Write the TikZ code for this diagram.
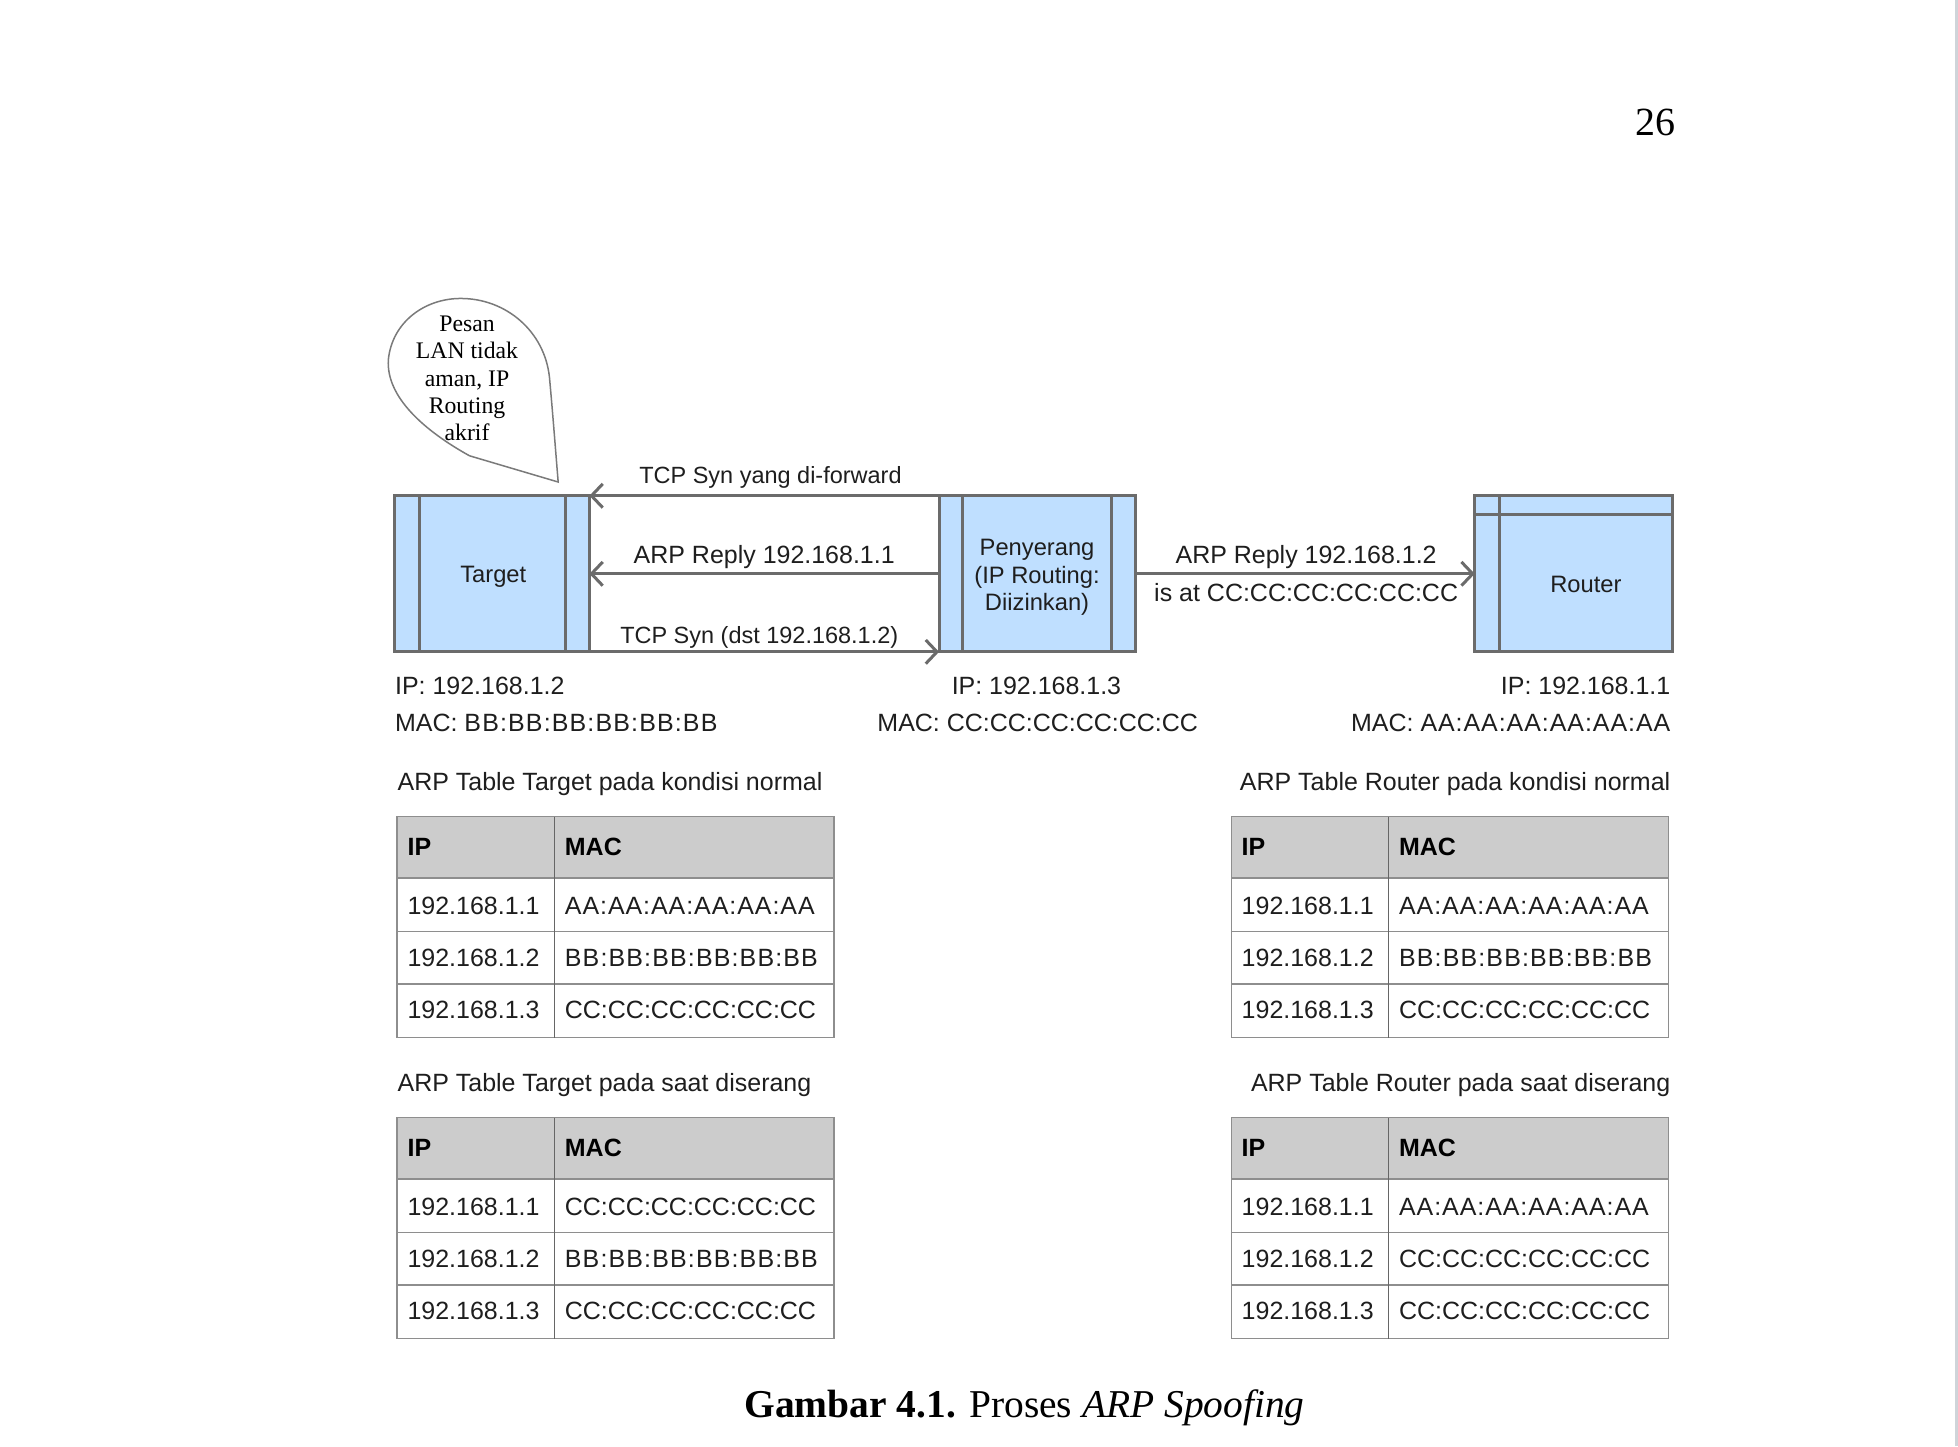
\documentclass[tikz,border=0pt]{standalone}
\usepackage{fontspec}
\setmainfont{Liberation Serif}
\setsansfont{Liberation Sans}
\usetikzlibrary{arrows.meta}
\definecolor{boxfill}{HTML}{BFDFFF}
\definecolor{boxline}{HTML}{6B6B6B}
\definecolor{tabline}{HTML}{8E8E8E}
\definecolor{tabdiv}{HTML}{666666}
\definecolor{tabhead}{HTML}{CCCCCC}
\definecolor{txt}{HTML}{1E1E1E}
\definecolor{stripgray}{HTML}{CFD4D9}
\definecolor{bubbleline}{HTML}{7A7A7A}

\newcommand\wideA[1]{{\addfontfeature{LetterSpace=3.8}#1}}
\newcommand\wideB[1]{{\addfontfeature{LetterSpace=4.6}#1}}

% #1 x-left, #2 y-top, #3 name prefix, #4 #5 #6 MAC values
\newcommand\arptab[6]{%
  \fill[tabhead] (#1,#2) rectangle (#1+350,#2+49);
  \foreach \dy in {49,92,134}
    \draw[tabline, line width=0.6pt] (#1,#2+\dy) -- (#1+350,#2+\dy);
  \draw[tabline, line width=0.6pt] (#1,#2) rectangle (#1+350,#2+177);
  \draw[tabdiv, line width=0.7pt] (#1+126,#2) -- (#1+126,#2+177);
  \node[hdr] (#3-hip) at (#1+8,#2+31) {IP};
  \node[hdr] (#3-hmac) at (#1+134,#2+31) {MAC};
  \node[cell] (#3-ip1) at (#1+8,#2+78) {192.168.1.1};
  \node[cell] (#3-mac1) at (#1+134,#2+78) {#4};
  \node[cell] (#3-ip2) at (#1+8,#2+120) {192.168.1.2};
  \node[cell] (#3-mac2) at (#1+134,#2+120) {#5};
  \node[cell] (#3-ip3) at (#1+8,#2+162) {192.168.1.3};
  \node[cell] (#3-mac3) at (#1+134,#2+162) {#6};
}

\begin{document}
\begin{tikzpicture}[x=0.5pt,y=-0.5pt,
  box/.style={draw=boxline, fill=boxfill, line width=1.2pt, inner sep=0pt, outer sep=0pt,
    minimum height=62.5pt},
  boxtext/.style={font=\sffamily\fontsize{9.5}{11}\selectfont, text=txt, align=center, inner sep=0pt},
  innerline/.style={draw=boxline, line width=1.2pt},
  arr/.style={draw=boxline, line width=1.2pt, -{Straight Barb[length=4.5pt,width=9.5pt]}},
  lbl/.style={font=\sffamily\fontsize{10}{12}\selectfont, text=txt, inner sep=0pt, anchor=base},
  lbls/.style={font=\sffamily\fontsize{9.4}{11}\selectfont, text=txt, inner sep=0pt, anchor=base},
  hdr/.style={font=\sffamily\bfseries\fontsize{10}{12}\selectfont, text=black, inner sep=0pt, anchor=base west},
  cell/.style={font=\sffamily\fontsize{10}{12}\selectfont, text=txt, inner sep=0pt, anchor=base west},
]
% page
\fill[white] (0,0) rectangle (1568,1158);
\fill[stripgray] (1565.6,0) rectangle (1568,1158);

% page number
\node[font=\fontsize{16}{18}\selectfont, inner sep=0pt, anchor=base] (pagenum) at (1326,108.5) {26};

% speech bubble
\draw[bubbleline, line width=0.6pt]
  (447,386) -- (376,365)
  .. controls (340,345) and (309,318) .. (311,288)
  .. controls (314,258) and (340,239) .. (369,239)
  .. controls (405,239) and (436,265) .. (440,302)
  .. controls (443,335) and (445,362) .. (447,386) -- cycle;
\node[font=\fontsize{9.5}{11}\selectfont, align=center, inner sep=0pt] (bubbletext) at (374,303)
  {Pesan\\LAN tidak\\aman, IP\\Routing\\akrif};

% boxes
\node[box, minimum width=78pt] (target) at (394,459.5) {};
\node[box, minimum width=78.5pt] (pen) at (830.5,459.5) {};
\node[box, minimum width=79pt] (router) at (1260,459.5) {};
\draw[innerline] ([xshift=10pt]target.north west) -- ([xshift=10pt]target.south west);
\draw[innerline] ([xshift=-9.5pt]target.north east) -- ([xshift=-9.5pt]target.south east);
\draw[innerline] ([xshift=9.5pt]pen.north west) -- ([xshift=9.5pt]pen.south west);
\draw[innerline] ([xshift=-9.5pt]pen.north east) -- ([xshift=-9.5pt]pen.south east);
\draw[innerline] ([xshift=10pt]router.north west) -- ([xshift=10pt]router.south west);
\draw[innerline] ([yshift=-7.5pt]router.north west) -- ([yshift=-7.5pt]router.north east);
\node[boxtext] (targettext) at (395,462) {Target};
\node[boxtext] (pentext) at (830.5,462.5) {Penyerang\\(IP Routing:\\Diizinkan)};
\node[boxtext] (routertext) at (1270,468) {Router};

% connectors
\draw[arr] (pen.north west) -- (target.north east);
\draw[arr] (pen.west) -- (target.east);
\draw[arr] (target.south east) -- (pen.south west);
\draw[arr] (pen.east) -- (router.west);

% connector labels
\node[lbls] (l1) at (617,387) {TCP Syn yang di-forward};
\node[lbl] (l2) at (612,451) {ARP Reply 192.168.1.1};
\node[lbls] (l3) at (608,515) {TCP Syn (dst 192.168.1.2)};
\node[lbl] (l4) at (1046,451) {ARP Reply 192.168.1.2};
\node[lbl] (l5) at (1046,482) {is at CC:CC:CC:CC:CC:CC};

% address labels
\node[lbl, anchor=base west] (tip) at (316,556) {IP: 192.168.1.2};
\node[lbl, anchor=base west] (tmac) at (316,586) {MAC: \wideB{BB:BB:BB:BB:BB:BB}};
\node[lbl] (pip) at (830,556) {IP: 192.168.1.3};
\node[lbl] (pmac) at (831,586) {MAC: CC:CC:CC:CC:CC:CC};
\node[lbl, anchor=base east] (rip) at (1338,556) {IP: 192.168.1.1};
\node[lbl, anchor=base east] (rmac) at (1338,586) {MAC: \wideA{AA:AA:AA:AA:AA:AA}};

% table titles
\node[lbl, anchor=base west] (tt1) at (318,633) {ARP Table Target pada kondisi normal};
\node[lbl, anchor=base east] (tt2) at (1338,633) {ARP Table Router pada kondisi normal};
\node[lbl, anchor=base west] (tt3) at (318,874) {ARP Table Target pada saat diserang};
\node[lbl, anchor=base east] (tt4) at (1338,874) {ARP Table Router pada saat diserang};

% tables
\arptab{318}{654}{tn}{\wideA{AA:AA:AA:AA:AA:AA}}{\wideB{BB:BB:BB:BB:BB:BB}}{CC:CC:CC:CC:CC:CC}
\arptab{986}{654}{rn}{\wideA{AA:AA:AA:AA:AA:AA}}{\wideB{BB:BB:BB:BB:BB:BB}}{CC:CC:CC:CC:CC:CC}
\arptab{318}{895}{ta}{CC:CC:CC:CC:CC:CC}{\wideB{BB:BB:BB:BB:BB:BB}}{CC:CC:CC:CC:CC:CC}
\arptab{986}{895}{ra}{\wideA{AA:AA:AA:AA:AA:AA}}{CC:CC:CC:CC:CC:CC}{CC:CC:CC:CC:CC:CC}

% caption
\node[font=\fontsize{15.8}{18}\selectfont, inner sep=0pt, anchor=base] (caption) at (820.5,1135)
  {\textbf{Gambar 4.1.} Proses \textit{ARP Spoofing}};
\end{tikzpicture}
\end{document}
